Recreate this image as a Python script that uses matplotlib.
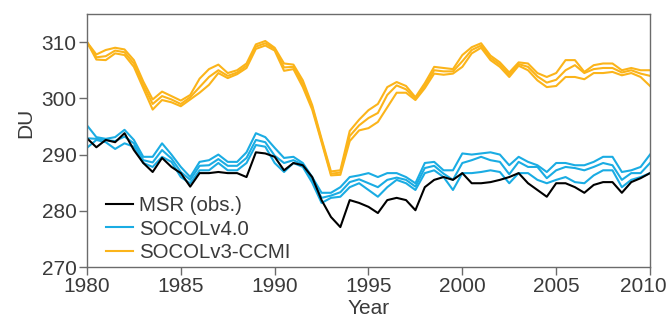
import numpy as np
import matplotlib
matplotlib.use("Agg")
import matplotlib.pyplot as plt
from matplotlib.transforms import ScaledTranslation

plt.rcParams["font.family"] = ["Liberation Sans", "DejaVu Sans"]

# half-year sampling, 1980.0 ... 2010.0
years = np.arange(1980.0, 2010.01, 0.5)

msr = [292.9, 291.3, 292.6, 292.2, 293.8, 290.8, 288.5, 286.9, 289.4, 287.8,
       286.7, 284.3, 286.7, 286.7, 286.9, 286.7, 286.7, 286.0, 290.4, 290.2,
       289.6, 287.2, 288.5, 288.1, 286.0, 281.9, 278.9, 277.1, 281.9, 281.4,
       280.7, 279.6, 281.9, 282.3, 281.9, 280.1, 284.2, 285.5, 286.0, 285.5,
       286.7, 284.9, 284.9, 285.1, 285.5, 286.0, 286.7, 284.9, 283.7, 282.5,
       284.9, 284.9, 284.2, 283.2, 284.6, 285.1, 285.1, 283.2, 285.1, 285.8,
       286.7]

socol4_a = [295.2, 293.1, 292.8, 293.1, 294.4, 292.6, 289.6, 289.6, 292.0, 290.0,
            287.8, 286.0, 288.7, 289.0, 290.0, 288.7, 288.7, 290.4, 293.8, 293.1,
            291.2, 289.4, 289.6, 288.5, 286.0, 283.2, 283.2, 284.2, 286.0, 286.3,
            286.7, 286.0, 286.7, 286.7, 286.0, 284.9, 288.5, 288.7, 287.2, 287.2,
            290.2, 290.0, 290.2, 290.4, 290.0, 288.1, 289.6, 288.7, 288.1, 286.9,
            288.5, 288.5, 288.1, 288.1, 288.7, 289.6, 289.6, 286.9, 287.2, 287.8,
            290.0]
socol4_b = [292.9, 292.8, 292.6, 292.4, 293.2, 292.0, 289.0, 288.6, 290.8, 289.3,
            286.9, 285.5, 288.0, 288.1, 289.2, 288.0, 288.0, 289.4, 292.6, 292.2,
            289.8, 288.5, 289.0, 288.2, 285.5, 282.3, 282.7, 283.3, 285.1, 285.6,
            284.9, 284.2, 285.5, 285.9, 285.5, 284.3, 287.6, 288.0, 286.6, 285.5,
            288.5, 289.0, 289.6, 289.0, 288.7, 286.5, 288.7, 287.8, 287.8, 285.8,
            287.2, 287.8, 287.6, 287.2, 287.8, 288.5, 288.1, 285.5, 286.7, 286.7,
            288.5]
socol4_c = [291.2, 292.6, 292.2, 291.0, 292.0, 291.4, 288.5, 287.8, 289.6, 288.7,
            286.0, 284.9, 287.2, 287.2, 288.5, 287.2, 287.2, 288.5, 291.7, 291.4,
            288.5, 286.9, 288.5, 287.8, 285.0, 281.4, 282.3, 282.5, 284.2, 284.9,
            283.7, 282.5, 284.2, 285.5, 284.9, 283.7, 286.7, 287.2, 286.0, 283.7,
            286.7, 286.7, 286.9, 287.2, 286.9, 284.9, 286.7, 286.7, 285.5, 284.9,
            285.5, 286.0, 285.1, 284.9, 286.3, 287.2, 287.2, 284.2, 285.5, 286.0,
            286.7]

socol3_a = [310.0, 307.8, 308.6, 309.0, 308.7, 306.8, 303.0, 299.8, 301.2, 300.4,
            299.6, 300.6, 303.5, 305.2, 306.0, 304.5, 305.0, 306.2, 309.6, 310.2,
            309.0, 306.2, 306.0, 303.2, 298.8, 292.8, 287.0, 287.2, 294.2, 296.2,
            297.9, 299.0, 302.0, 302.9, 302.2, 300.2, 302.7, 305.6, 305.4, 305.2,
            307.7, 309.1, 309.8, 307.6, 306.4, 304.6, 306.4, 306.2, 304.5, 303.8,
            304.5, 306.8, 306.8, 304.7, 305.9, 306.2, 306.2, 305.0, 305.4, 305.0,
            305.0]
socol3_b = [310.0, 307.3, 307.5, 308.5, 308.2, 306.2, 302.4, 299.0, 300.4, 299.8,
            299.0, 300.2, 302.0, 303.8, 305.0, 304.0, 304.6, 305.8, 309.2, 309.8,
            308.8, 305.5, 305.6, 302.6, 298.4, 292.5, 286.6, 286.8, 293.3, 295.2,
            296.5, 297.4, 300.6, 302.3, 301.6, 300.0, 302.2, 305.0, 304.8, 304.8,
            306.6, 308.6, 309.4, 307.2, 306.0, 304.2, 306.1, 305.6, 303.9, 302.8,
            303.3, 305.0, 305.9, 304.5, 305.2, 305.4, 305.4, 304.6, 305.0, 304.4,
            304.0]
socol3_c = [310.0, 306.9, 306.8, 308.0, 307.7, 305.6, 301.8, 298.0, 299.7, 299.3,
            298.6, 299.8, 301.0, 302.4, 304.5, 303.6, 304.3, 305.4, 308.8, 309.4,
            308.5, 304.9, 305.2, 302.0, 298.0, 292.2, 286.3, 286.4, 292.4, 294.3,
            294.7, 295.8, 298.4, 301.0, 301.0, 299.7, 301.8, 304.4, 304.2, 304.4,
            305.6, 308.0, 309.0, 306.8, 305.6, 303.8, 305.8, 305.0, 303.2, 302.0,
            302.2, 303.8, 303.8, 303.4, 304.5, 304.5, 304.7, 304.1, 304.5, 303.8,
            302.2]

blue = "#1AACE3"
orange = "#FBB41A"
gray = "#6b6b6b"
text_color = "#3a3a3a"
fs = 15

fig = plt.figure(figsize=(6.66, 3.2), dpi=100)
ax = fig.add_axes([0.1306, 0.1656, 0.8454, 0.7906])

lw = 1.5
for s in [socol3_a, socol3_b, socol3_c]:
    ax.plot(years, s, color=orange, lw=lw)
for s in [socol4_a, socol4_b, socol4_c]:
    ax.plot(years, s, color=blue, lw=lw)
ax.plot(years, msr, color="black", lw=lw)

# legend proxies
h1, = ax.plot([], [], color="black", lw=lw, label="MSR (obs.)")
h2, = ax.plot([], [], color=blue, lw=lw, label="SOCOLv4.0")
h3, = ax.plot([], [], color=orange, lw=lw, label="SOCOLv3-CCMI")
leg = ax.legend(handles=[h1, h2, h3], loc="lower left", bbox_to_anchor=(0.034, 0.018),
                frameon=False, fontsize=14.7, handlelength=1.3, handletextpad=0.3,
                labelspacing=0.24, borderaxespad=0.0, borderpad=0.0)
for t in leg.get_texts():
    t.set_color(text_color)

ax.set_xlim(1980, 2010)
ax.set_ylim(270, 315)
ax.set_xticks([1980, 1985, 1990, 1995, 2000, 2005, 2010])
ax.set_yticks([270, 280, 290, 300, 310])
ax.set_xlabel("Year", fontsize=fs, color=text_color)
ax.set_ylabel("DU", fontsize=fs, color=text_color)
ax.xaxis.set_label_coords(0.5, -0.128)
ax.yaxis.set_label_coords(-0.092, 0.569)

for sp in ax.spines.values():
    sp.set_color(gray)
    sp.set_linewidth(1.0)
ax.tick_params(direction="out", length=6, width=1.0, color=gray,
               labelsize=fs, labelcolor=text_color, pad=1.5)

# last year label sits pulled in from the right edge, as in the original
fig.canvas.draw()
last = ax.get_xticklabels()[-1]
last.set_transform(last.get_transform() + ScaledTranslation(-7 / 100, 0, fig.dpi_scale_trans))

fig.savefig("out.png", dpi=100)
